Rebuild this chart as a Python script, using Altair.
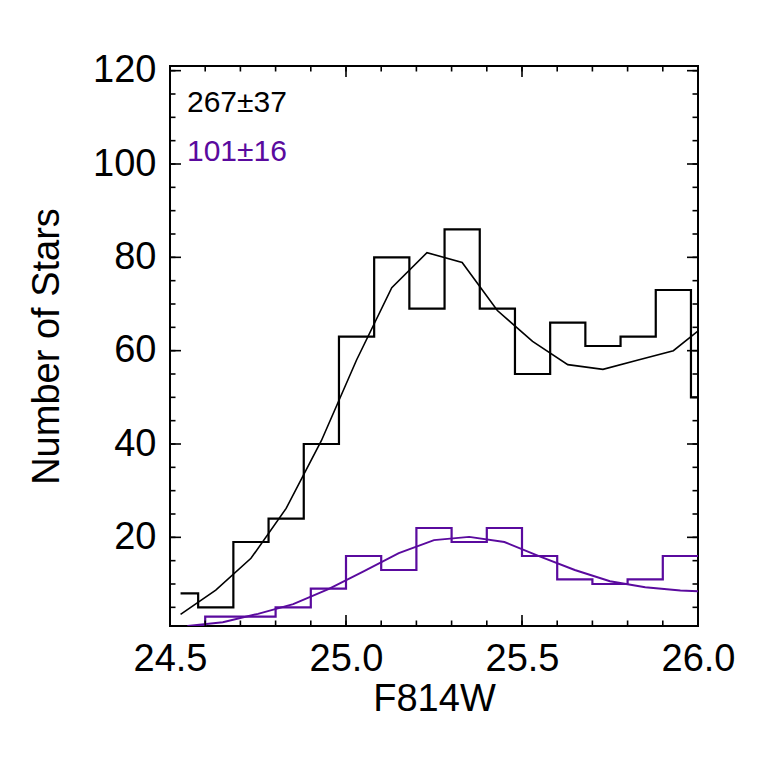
import altair as alt
import pandas as pd

# ---- data ----
black_hist_x = [24.53, 24.63, 24.73, 24.83, 24.93, 25.03, 25.13, 25.23, 25.33, 25.43,
                25.53, 25.63, 25.73, 25.83, 25.93, 26.03]
black_hist_y = [8, 5, 19, 24, 40, 63, 80, 69, 86, 69, 55, 66, 61, 63, 73, 50]
black_fit_y = [3.5, 8.7, 15.5, 26.2, 40.7, 58, 73.5, 81, 78.9, 68.6, 62, 57, 56, 58, 60, 66]

purple_hist_x = [24.55, 24.65, 24.75, 24.85, 24.95, 25.05, 25.15, 25.25, 25.35, 25.45,
                 25.55, 25.65, 25.75, 25.85, 25.95, 26.05]
purple_hist_y = [1, 3, 3, 5, 9, 16, 13, 22, 19, 22, 16, 11, 10, 11, 16, 16]
purple_fit_y = [1.0, 1.8, 3.6, 5.7, 8.9, 12.7, 16.6, 19.4, 20.1, 19.0, 15.9, 13.0, 10.6, 9.3, 8.6, 8.3]

label_black = "267±37"
label_purple = "101±16"

x_major = [24.5, 25.0, 25.5, 26.0]
x_minor = [round(24.5 + 0.1 * i, 1) for i in range(16)]
y_major = [20, 40, 60, 80, 100, 120]
y_minor = list(range(5, 121, 5))

PURPLE = "#5a0a9e"
FONT = "Liberation Sans"
X_DOM = [24.5, 26.0]
Y_DOM = [1, 121]
W, H = 528, 560
MAJ, MIN = 11, 5.5

black = pd.DataFrame({"mag": black_hist_x, "hist": black_hist_y, "fit": black_fit_y})
purple = pd.DataFrame({"mag": purple_hist_x, "hist": purple_hist_y, "fit": purple_fit_y})

xscale = alt.Scale(domain=X_DOM, nice=False, zero=False)
yscale = alt.Scale(domain=Y_DOM, nice=False, zero=False)

ax_bottom = alt.Axis(orient="bottom", values=x_major, format=".1f", ticks=False, domain=False,
                     grid=False, labelFlush=False, labelFont=FONT, labelFontSize=38,
                     labelColor="black", labelPadding=14, title="F814W", titleFont=FONT,
                     titleFontSize=38, titleFontWeight="normal", titleColor="black",
                     titlePadding=2)
ax_left = alt.Axis(orient="left", values=y_major, format="d", ticks=False, domain=False,
                   grid=False, labelFlush=False, labelFont=FONT, labelFontSize=38,
                   labelColor="black", labelPadding=14, title="Number of Stars", titleFont=FONT,
                   titleFontSize=38, titleFontWeight="normal", titleColor="black",
                   titlePadding=26)

l1 = alt.Chart(black).mark_line(interpolate="step", color="black", strokeWidth=2.2, clip=True).encode(
    x=alt.X("mag:Q", scale=xscale, axis=ax_bottom),
    y=alt.Y("hist:Q", scale=yscale, axis=ax_left))
l2 = alt.Chart(black).mark_line(color="black", strokeWidth=1.6, clip=True).encode(
    x=alt.X("mag:Q", scale=xscale, axis=None), y=alt.Y("fit:Q", scale=yscale, axis=None))
l3 = alt.Chart(purple).mark_line(interpolate="step", color=PURPLE, strokeWidth=2.2, clip=True).encode(
    x=alt.X("mag:Q", scale=xscale, axis=None), y=alt.Y("hist:Q", scale=yscale, axis=None))
l4 = alt.Chart(purple).mark_line(color=PURPLE, strokeWidth=1.9, clip=True).encode(
    x=alt.X("mag:Q", scale=xscale, axis=None), y=alt.Y("fit:Q", scale=yscale, axis=None))


# inward tick marks on all four sides
def xticks(vals, length):
    d = pd.DataFrame({"v": vals})
    base = alt.Chart(d).mark_rule(color="black", strokeWidth=1.6)
    xe = alt.X("v:Q", scale=xscale, axis=None)
    return [base.encode(x=xe, y=alt.value(H), y2=alt.value(H - length)),
            base.encode(x=xe, y=alt.value(0), y2=alt.value(length))]


def yticks(vals, length):
    d = pd.DataFrame({"v": vals})
    base = alt.Chart(d).mark_rule(color="black", strokeWidth=1.6)
    ye = alt.Y("v:Q", scale=yscale, axis=None)
    return [base.encode(y=ye, x=alt.value(0), x2=alt.value(length)),
            base.encode(y=ye, x=alt.value(W), x2=alt.value(W - length))]


ticks = xticks(x_major, MAJ) + xticks(x_minor, MIN) + yticks(y_major, MAJ) + yticks(y_minor, MIN)

t1 = alt.Chart(pd.DataFrame({"t": [label_black]})).mark_text(
    align="left", baseline="alphabetic", font=FONT, fontSize=30, color="black").encode(
    text="t:N", x=alt.value(17), y=alt.value(46))
t2 = alt.Chart(pd.DataFrame({"t": [label_purple]})).mark_text(
    align="left", baseline="alphabetic", font=FONT, fontSize=30, color=PURPLE).encode(
    text="t:N", x=alt.value(17), y=alt.value(95))

chart = alt.layer(l1, l2, l3, l4, *ticks, t1, t2).resolve_axis(
    x="independent", y="independent").properties(
    width=W, height=H,
    autosize=alt.AutoSizeParams(type="none"),
    padding={"left": 162, "top": 58, "right": 45, "bottom": 125},
).configure_view(stroke="black", strokeWidth=2)

chart.save("out.html", embed_options={"renderer": "svg", "actions": False})
